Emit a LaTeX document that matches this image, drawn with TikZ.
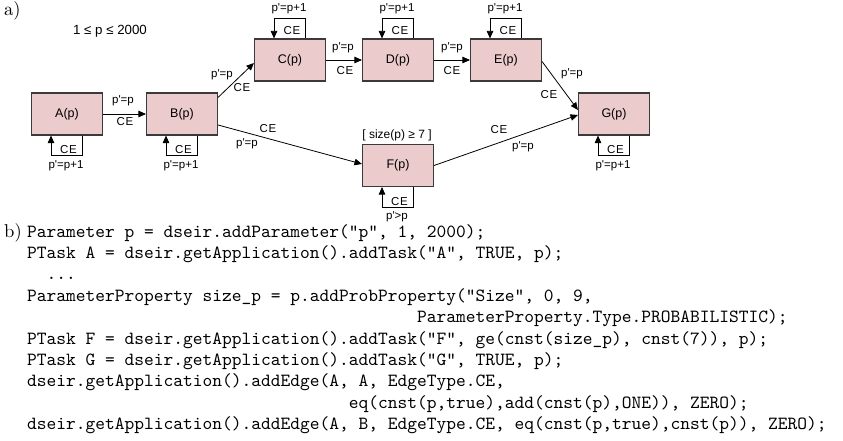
\documentclass[tikz,border=0pt]{standalone}
\usepackage{fontspec}
\newfontfamily\lab{Liberation Sans}
\newfontfamily\codefont{lmmono10-regular}[Extension=.otf]
\newfontfamily\tagfont{lmroman10-regular}[Extension=.otf]
\usetikzlibrary{arrows.meta,calc}
\definecolor{boxfill}{HTML}{EBCBCB}
\definecolor{boxline}{HTML}{3A3A3A}
\newcommand\CE{C\kern0.6pt E}
\newcommand\pr{\textquotesingle}
\begin{document}
\begin{tikzpicture}[x=1pt,y=-1pt,
  task/.style={draw=boxline, fill=boxfill, line width=1.1pt, minimum width=71pt, minimum height=42pt, inner sep=0pt, font=\lab\fontsize{12.5}{14}\selectfont},
  lbl/.style={inner sep=0pt, font=\lab\fontsize{11.5}{13}\selectfont},
  conn/.style={line width=0.8pt, -{Triangle[length=7.5pt,width=6.5pt]}},
  code/.style={anchor=base west, inner sep=0pt, font=\codefont\fontsize{18.57}{22}\selectfont},
  tag/.style={anchor=base west, inner sep=0pt, font=\tagfont\fontsize{18.57}{22}\selectfont},
]
\useasboundingbox (0,0) rectangle (843,441);

% part a
\node[tag] (ta) at (4,16) {a)};
\node[lbl, font=\lab\fontsize{13.3}{15}\selectfont] (range) at (110,31) {1 ≤ p ≤ 2000};

\node[task] (A) at (67,114) {A(p)};
\node[task] (B) at (182,114) {B(p)};
\node[task] (C) at (290,60) {C(p)};
\node[task] (D) at (398,60) {D(p)};
\node[task] (E) at (506,60) {E(p)};
\node[task] (F) at (398,165.5) {F(p)};
\node[task] (G) at (614,114) {G(p)};

% edges
\draw[conn] (A.east) -- (B.west);
\node[lbl] (ab1) at (123,101) {p\pr=p};
\node[lbl] (ab2) at (125,122) {\CE};

\draw[conn] ($(B.north east)+(0,5)$) -- ($(C.west)+(0,3)$);
\node[lbl] (bc1) at (222,75) {p\pr=p};
\node[lbl] (bc2) at (242,88) {\CE};

\draw[conn] (C.east) -- (D.west);
\node[lbl] (cd1) at (343,48) {p\pr=p};
\node[lbl] (cd2) at (345,71) {\CE};

\draw[conn] (D.east) -- (E.west);
\node[lbl] (de1) at (452,48) {p\pr=p};
\node[lbl] (de2) at (452,71) {\CE};

\draw[conn] ($(E.east)+(0,1.5)$) -- ($(G.west)+(0,-4)$);
\node[lbl] (eg1) at (572,74) {p\pr=p};
\node[lbl] (eg2) at (549,95) {\CE};

\draw[conn] ($(B.east)+(0,11)$) -- ($(F.west)+(0,-1.5)$);
\node[lbl] (bf1) at (268,129) {\CE};
\node[lbl] (bf2) at (247,144) {p\pr=p};

\draw[conn] (F.east) -- ($(G.west)+(0,1)$);
\node[lbl] (fg1) at (499,130) {\CE};
\node[lbl] (fg2) at (523,147) {p\pr=p};

\node[lbl, font=\lab\fontsize{12}{14}\selectfont] (fcond) at (397,135) {[ size(p) ≥ 7 ]};

% bottom self loops
\foreach \n/\t in {A/p\pr=p+1, B/p\pr=p+1, G/p\pr=p+1, F/p\pr>p}{
  \draw[conn] ($(\n.south)+(15,0)$) -- ++(0,20) -| ($(\n.south)+(-16,0)$);
  \node[lbl] (ce\n) at ($(\n.south)+(1.5,14)$) {\CE};
  \node[lbl] (lp\n) at ($(\n.south)+(-1,30)$) {\t};
}
% top self loops
\foreach \n in {C,D,E}{
  \draw[conn] ($(\n.north)+(15,0)$) -- ++(0,-20) -| ($(\n.north)+(-16,0)$);
  \node[lbl] (ce\n) at ($(\n.north)+(2,-7.5)$) {\CE};
  \node[lbl] (lp\n) at ($(\n.north)+(-1,-29.5)$) {p\pr=p+1};
}

% part b
\node[tag] (tb) at (4,237) {b)};
\node[code] (l1) at (27,237) {Parameter p = dseir.addParameter("p", 1, 2000);};
\node[code] (l2) at (27,258.4) {PTask A = dseir.getApplication().addTask("A", TRUE, p);};
\node[code] (l3) at (46.5,279.8) {...};
\node[code] (l4) at (27,301.2) {ParameterProperty size\_p = p.addProbProperty("Size", 0, 9,};
\node[code] (l5) at (417,322.6) {ParameterProperty.Type.PROBABILISTIC);};
\node[code] (l6) at (27,344) {PTask F = dseir.getApplication().addTask("F", ge(cnst(size\_p), cnst(7)), p);};
\node[code] (l7) at (27,365.4) {PTask G = dseir.getApplication().addTask("G", TRUE, p);};
\node[code] (l8) at (27,386.8) {dseir.getApplication().addEdge(A, A, EdgeType.CE,};
\node[code] (l9) at (348.75,408.2) {eq(cnst(p,true),add(cnst(p),ONE)), ZERO);};
\node[code] (l10) at (27,429.6) {dseir.getApplication().addEdge(A, B, EdgeType.CE, eq(cnst(p,true),cnst(p)), ZERO);};
\end{tikzpicture}
\end{document}
